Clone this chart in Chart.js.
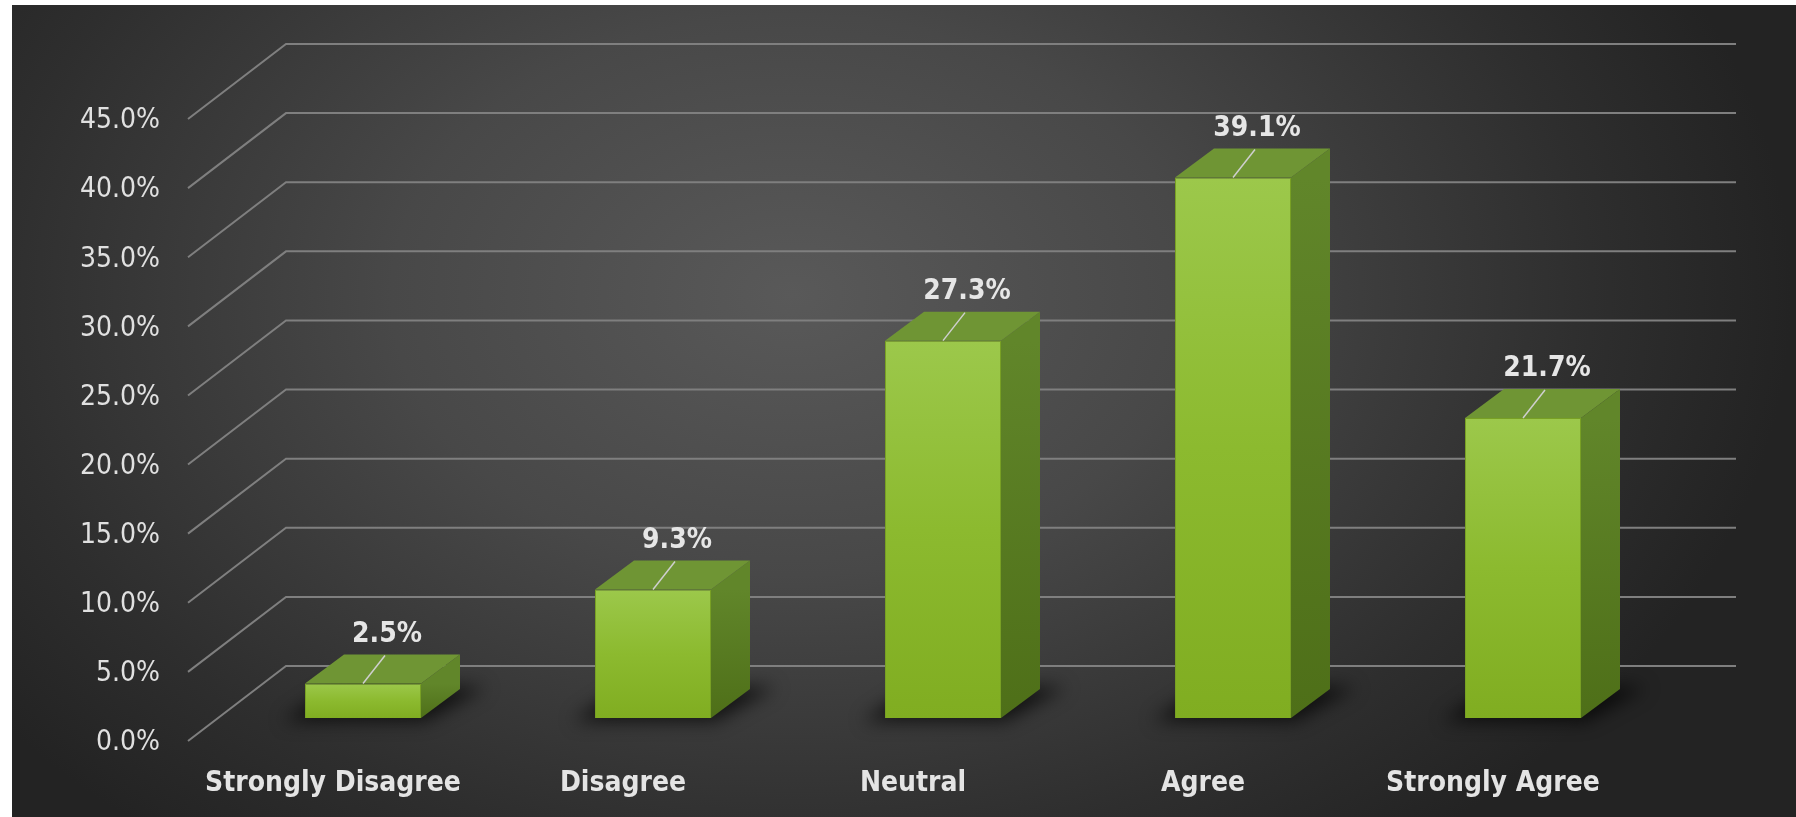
<!DOCTYPE html>
<html>
<head>
<meta charset="utf-8">
<script src="https://cdn.jsdelivr.net/npm/chart.js@4.4.0/dist/chart.umd.min.js"></script>
<style>
  html, body { margin:0; padding:0; background:#fff; }
  #bg {
    position:absolute; left:12px; top:5px; width:1784px; height:812px;
    background: radial-gradient(ellipse 1000px 700px at 780px 290px, #595959 0%, #484848 40%, #2e2e2e 80%, #232323 100%);
  }
  #wrap { position:absolute; left:0; top:0; width:1796px; height:817px; }
</style>
</head>
<body>
<div id="bg"></div>
<div id="wrap"><canvas id="canvas1" width="1796" height="817"></canvas></div>
<script>
var categories = ["Strongly Disagree", "Disagree", "Neutral", "Agree", "Strongly Agree"];
var shares = [2.5, 9.3, 27.3, 39.1, 21.7];
var yTicks = [0, 5, 10, 15, 20, 25, 30, 35, 40, 45];

// oblique 3d offsets (pixels) relative to the bar plane
var depthX = 39, depthY = -29;   // bar depth
var wallX = 68, wallY = -52;     // back wall
var frontX = -30, frontY = 23;   // front edge of floor

var fontFamily = '"DejaVu Sans Condensed", "DejaVu Sans", sans-serif';

var bars3d = {
  id: 'bars3d',
  beforeDatasetsDraw: function(chart) {
    var ctx = chart.ctx, ca = chart.chartArea, ys = chart.scales.y;
    ctx.save();
    // grid: side wall diagonals + back wall lines
    ctx.strokeStyle = '#7f7f7f';
    ctx.lineWidth = 2;
    yTicks.forEach(function(v) {
      var py = ys.getPixelForValue(v);
      ctx.beginPath();
      ctx.moveTo(ca.left + frontX, py + frontY);
      ctx.lineTo(ca.left + wallX, py + wallY);
      ctx.lineTo(ca.right + wallX, py + wallY);
      ctx.stroke();
    });
    // floor shadows
    var meta = chart.getDatasetMeta(0);
    ctx.filter = 'blur(9px)';
    ctx.fillStyle = 'rgba(0,0,0,0.7)';
    meta.data.forEach(function(bar) {
      var p = bar.getProps(['x', 'y', 'base', 'width'], true);
      var l = p.x - p.width / 2, r = p.x + p.width / 2, b = p.base;
      ctx.beginPath();
      ctx.moveTo(l - 22, b + 3);
      ctx.lineTo(r + 4, b + 3);
      ctx.lineTo(r + depthX + 26, b + depthY - 2);
      ctx.lineTo(l + depthX - 10, b + depthY - 2);
      ctx.closePath();
      ctx.fill();
    });
    ctx.filter = 'none';
    ctx.restore();
  },
  afterDatasetsDraw: function(chart) {
    var ctx = chart.ctx;
    var meta = chart.getDatasetMeta(0);
    ctx.save();
    meta.data.forEach(function(bar, i) {
      var p = bar.getProps(['x', 'y', 'base', 'width'], true);
      var l = p.x - p.width / 2, r = p.x + p.width / 2, t = p.y, b = p.base;
      // side face
      var g = ctx.createLinearGradient(0, t, 0, b);
      g.addColorStop(0, '#61862a');
      g.addColorStop(1, '#4e6f18');
      ctx.fillStyle = g;
      ctx.beginPath();
      ctx.moveTo(r, t);
      ctx.lineTo(r + depthX, t + depthY);
      ctx.lineTo(r + depthX, b + depthY);
      ctx.lineTo(r, b);
      ctx.closePath();
      ctx.fill();
      // top face
      ctx.fillStyle = '#6f9534';
      ctx.beginPath();
      ctx.moveTo(l, t);
      ctx.lineTo(l + depthX, t + depthY);
      ctx.lineTo(r + depthX, t + depthY);
      ctx.lineTo(r, t);
      ctx.closePath();
      ctx.fill();
      // leader line + value label
      ctx.strokeStyle = '#cfcfcf';
      ctx.lineWidth = 1.5;
      ctx.beginPath();
      ctx.moveTo(p.x, t);
      ctx.lineTo(p.x + 22, t - 28);
      ctx.stroke();
      ctx.font = 'bold 28px ' + fontFamily;
      ctx.fillStyle = '#e6e6e6';
      ctx.textAlign = 'center';
      ctx.textBaseline = 'middle';
      ctx.fillText(shares[i].toFixed(1) + '%', p.x + 24, t - 49);
    });
    ctx.restore();
  }
};

new Chart(document.getElementById("canvas1"), {
  type: 'bar',
  data: {
    labels: categories,
    datasets: [{
      data: shares,
      barPercentage: 0.4,
      categoryPercentage: 1,
      borderWidth: 1,
      borderColor: '#78a024',
      backgroundColor: function(c) {
        var chart = c.chart;
        if (!chart.chartArea || c.dataIndex === undefined) return '#8cb832';
        var ys = chart.scales.y;
        var top = ys.getPixelForValue(shares[c.dataIndex]), base = ys.getPixelForValue(0);
        var g = chart.ctx.createLinearGradient(0, top, 0, base);
        g.addColorStop(0, '#9cc84b');
        g.addColorStop(0.5, '#8cba2f');
        g.addColorStop(1, '#80ad21');
        return g;
      }
    }]
  },
  options: {
    responsive: false,
    devicePixelRatio: 1,
    animation: false,
    layout: { padding: { top: 96, right: 128, bottom: 0, left: 0 } },
    plugins: { legend: { display: false }, tooltip: { enabled: false } },
    scales: {
      x: {
        grid: { display: false, drawTicks: false },
        border: { display: false },
        ticks: {
          color: '#e4e4e4',
          font: { family: fontFamily, size: 28, weight: 'bold' },
          padding: 49,
          labelOffset: -30,
          autoSkip: false,
          maxRotation: 0
        },
        afterFit: function(scale) { scale.height = 99; }
      },
      y: {
        min: 0,
        max: 45,
        grid: { display: false, drawTicks: false },
        border: { display: false },
        ticks: {
          stepSize: 5,
          color: '#e0e0e0',
          font: { family: fontFamily, size: 28 },
          padding: 58,
          labelOffset: 25,
          autoSkip: false,
          callback: function(v) { return v.toFixed(1) + '%'; }
        },
        afterFit: function(scale) { scale.width = 218; }
      }
    }
  },
  plugins: [bars3d]
});
</script>
</body>
</html>
